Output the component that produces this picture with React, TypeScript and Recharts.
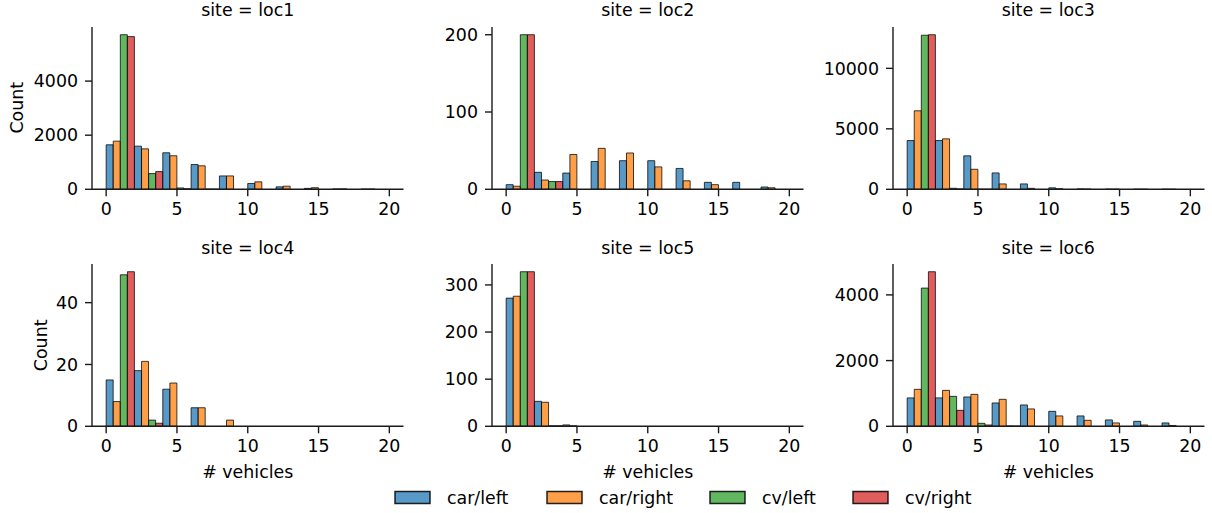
import React from 'react';
import { BarChart, Bar, XAxis, YAxis, Cell } from 'recharts';

// ---------- data ----------
const binStarts = [0, 2, 4, 6, 8, 10, 12, 14, 16, 18];
const seriesNames = ['car/left', 'car/right', 'cv/left', 'cv/right'];
const siteNames = ['loc1', 'loc2', 'loc3', 'loc4', 'loc5', 'loc6'];
const xTicks = [0, 5, 10, 15, 20];

const loc1CarLeft = [1645, 1595, 1350, 915, 495, 215, 90, 35, 12, 6];
const loc1CarRight = [1780, 1495, 1240, 868, 495, 275, 115, 60, 15, 8];
const loc1CvLeft = [5714, 580, 50, 5, 0, 0, 0, 0, 0, 0];
const loc1CvRight = [5645, 655, 20, 2, 0, 0, 0, 0, 0, 0];

const loc2CarLeft = [6, 22, 21, 36, 37, 37, 27, 9, 9, 3];
const loc2CarRight = [4, 12, 45, 53, 47, 29, 11, 6, 0, 2];
const loc2CvLeft = [200, 10, 0, 0, 0, 0, 0, 0, 0, 0];
const loc2CvRight = [200, 10, 0, 0, 0, 0, 0, 0, 0, 0];

const loc3CarLeft = [4030, 4030, 2765, 1355, 447, 120, 30, 10, 5, 2];
const loc3CarRight = [6490, 4170, 1655, 445, 80, 45, 15, 5, 2, 1];
const loc3CvLeft = [12740, 85, 5, 0, 0, 0, 0, 0, 0, 0];
const loc3CvRight = [12780, 30, 2, 0, 0, 0, 0, 0, 0, 0];

const loc4CarLeft = [15, 18, 12, 6, 0, 0, 0, 0, 0, 0];
const loc4CarRight = [8, 21, 14, 6, 2, 0, 0, 0, 0, 0];
const loc4CvLeft = [49, 2, 0, 0, 0, 0, 0, 0, 0, 0];
const loc4CvRight = [50, 1, 0, 0, 0, 0, 0, 0, 0, 0];

const loc5CarLeft = [272, 53, 3, 0, 0, 0, 0, 0, 0, 0];
const loc5CarRight = [276, 51, 1, 0, 0, 0, 0, 0, 0, 0];
const loc5CvLeft = [328, 1, 0, 0, 0, 0, 0, 0, 0, 0];
const loc5CvRight = [328, 1, 0, 0, 0, 0, 0, 0, 0, 0];

const loc6CarLeft = [865, 865, 893, 711, 650, 456, 316, 195, 152, 103];
const loc6CarRight = [1125, 1094, 973, 821, 529, 316, 182, 103, 40, 25];
const loc6CvLeft = [4207, 912, 91, 10, 0, 0, 0, 0, 0, 0];
const loc6CvRight = [4705, 486, 40, 5, 0, 0, 0, 0, 0, 0];

const siteSeries: Record<string, number[][]> = {
  loc1: [loc1CarLeft, loc1CarRight, loc1CvLeft, loc1CvRight],
  loc2: [loc2CarLeft, loc2CarRight, loc2CvLeft, loc2CvRight],
  loc3: [loc3CarLeft, loc3CarRight, loc3CvLeft, loc3CvRight],
  loc4: [loc4CarLeft, loc4CarRight, loc4CvLeft, loc4CvRight],
  loc5: [loc5CarLeft, loc5CarRight, loc5CvLeft, loc5CvRight],
  loc6: [loc6CarLeft, loc6CarRight, loc6CvLeft, loc6CvRight],
};

const loc1YTicks = [0, 2000, 4000];
const loc2YTicks = [0, 100, 200];
const loc3YTicks = [0, 5000, 10000];
const loc4YTicks = [0, 20, 40];
const loc5YTicks = [0, 100, 200, 300];
const loc6YTicks = [0, 2000, 4000];
const siteYTicks: Record<string, number[]> = {
  loc1: loc1YTicks, loc2: loc2YTicks, loc3: loc3YTicks,
  loc4: loc4YTicks, loc5: loc5YTicks, loc6: loc6YTicks,
};

// ---------- style / layout ----------
const COLORS = ['#1f77b4', '#ff7f0e', '#2ca02c', '#d62728'];
const TEXT = '#000000';
const AXIS = '#1a1a1a';
const FONT = "'DejaVu Sans', sans-serif";
const FS = 17.4;
const BIN_W = 2;
const X_MIN = -1;
const X_MAX = 21;

const PLOT_LEFT = [92, 492, 892.5];
const PLOT_TOP = [26.6, 264.2];
const PW = 311.5;
const PH = 162.3;
const YW = 80;
const MT = 10;
const MR = 10;
const XH = 40;

const LEGEND_X = [395, 547, 710, 853];

function buildRows(site: string) {
  const vals = siteSeries[site];
  const rows: { slot: string; x: number; count: number; s: number }[] = [];
  binStarts.forEach((b, bi) => {
    seriesNames.forEach((_, s) => {
      rows.push({
        slot: `${b}-${s}`,
        x: b + (s + 0.5) * (BIN_W / seriesNames.length),
        count: vals[s][bi],
        s,
      });
    });
  });
  return rows;
}

function Panel({ site, col, row }: { site: string; col: number; row: number }) {
  const data = buildRows(site);
  const ymax = Math.max(...data.map((d) => d.count)) * 1.05;
  const pad = PW / (X_MAX - X_MIN);
  const axisStyle = { stroke: AXIS, strokeWidth: 1.4 };
  const tickStyle = { fill: TEXT, fontSize: FS, fontFamily: FONT };
  return (
    <div style={{ position: 'absolute', left: PLOT_LEFT[col] - YW, top: PLOT_TOP[row] - MT }}>
      <BarChart
        width={YW + PW + MR}
        height={MT + PH + XH}
        data={data}
        margin={{ top: MT, right: MR, left: 0, bottom: 0 }}
        barCategoryGap={0}
        barGap={0}
      >
        <XAxis
          xAxisId="cat"
          dataKey="slot"
          type="category"
          orientation="top"
          hide
          height={0}
          padding={{ left: pad, right: pad }}
        />
        <XAxis
          xAxisId="num"
          dataKey="x"
          type="number"
          orientation="bottom"
          domain={[X_MIN, X_MAX]}
          ticks={xTicks}
          allowDataOverflow
          height={XH}
          tickSize={7}
          tickMargin={6}
          axisLine={axisStyle}
          tickLine={axisStyle}
          tick={tickStyle}
          interval={0}
        />
        <YAxis
          type="number"
          domain={[0, ymax]}
          ticks={siteYTicks[site]}
          allowDataOverflow
          width={YW}
          tickSize={7}
          tickMargin={7}
          axisLine={axisStyle}
          tickLine={axisStyle}
          tick={tickStyle}
          interval={0}
        />
        <Bar
          xAxisId="cat"
          dataKey="count"
          isAnimationActive={false}
          stroke="#000"
          strokeOpacity={0.75}
          strokeWidth={1}
          fillOpacity={0.75}
        >
          {data.map((d, i) => (
            <Cell key={i} fill={COLORS[d.s]} />
          ))}
        </Bar>
      </BarChart>
    </div>
  );
}

export default function App() {
  return (
    <div
      style={{
        position: 'absolute',
        left: 0,
        top: 0,
        width: 1212,
        height: 513,
        background: '#fff',
        fontFamily: FONT,
      }}
    >
      {siteNames.map((site, i) => (
        <Panel key={site} site={site} col={i % 3} row={Math.floor(i / 3)} />
      ))}
      <svg
        width={1212}
        height={513}
        style={{ position: 'absolute', left: 0, top: 0, pointerEvents: 'none' }}
      >
        {siteNames.map((site, i) => {
          const col = i % 3;
          const row = Math.floor(i / 3);
          return (
            <text
              key={site}
              x={PLOT_LEFT[col] + PW / 2}
              y={PLOT_TOP[row] - 10.3}
              textAnchor="middle"
              fontSize={FS}
              fontFamily={FONT}
              fill={TEXT}
            >
              {`site = ${site}`}
            </text>
          );
        })}
        {/* y labels */}
        <text
          transform={`translate(23.3, ${PLOT_TOP[0] + PH / 2}) rotate(-90)`}
          textAnchor="middle"
          fontSize={FS}
          fontFamily={FONT}
          fill={TEXT}
        >
          Count
        </text>
        <text
          transform={`translate(46.5, ${PLOT_TOP[1] + PH / 2}) rotate(-90)`}
          textAnchor="middle"
          fontSize={FS}
          fontFamily={FONT}
          fill={TEXT}
        >
          Count
        </text>
        {/* x labels */}
        {PLOT_LEFT.map((l, c) => (
          <text
            key={c}
            x={l + PW / 2}
            y={477.5}
            textAnchor="middle"
            fontSize={FS}
            fontFamily={FONT}
            fill={TEXT}
          >
            # vehicles
          </text>
        ))}
        {/* legend */}
        {seriesNames.map((name, s) => (
          <g key={name}>
            <rect
              x={LEGEND_X[s]}
              y={491.5}
              width={35}
              height={12}
              fill={COLORS[s]}
              fillOpacity={0.75}
              stroke="#000"
              strokeOpacity={0.85}
              strokeWidth={1.5}
            />
            <text
              x={LEGEND_X[s] + 52}
              y={503.8}
              fontSize={FS}
              fontFamily={FONT}
              fill={TEXT}
            >
              {name}
            </text>
          </g>
        ))}
      </svg>
    </div>
  );
}
